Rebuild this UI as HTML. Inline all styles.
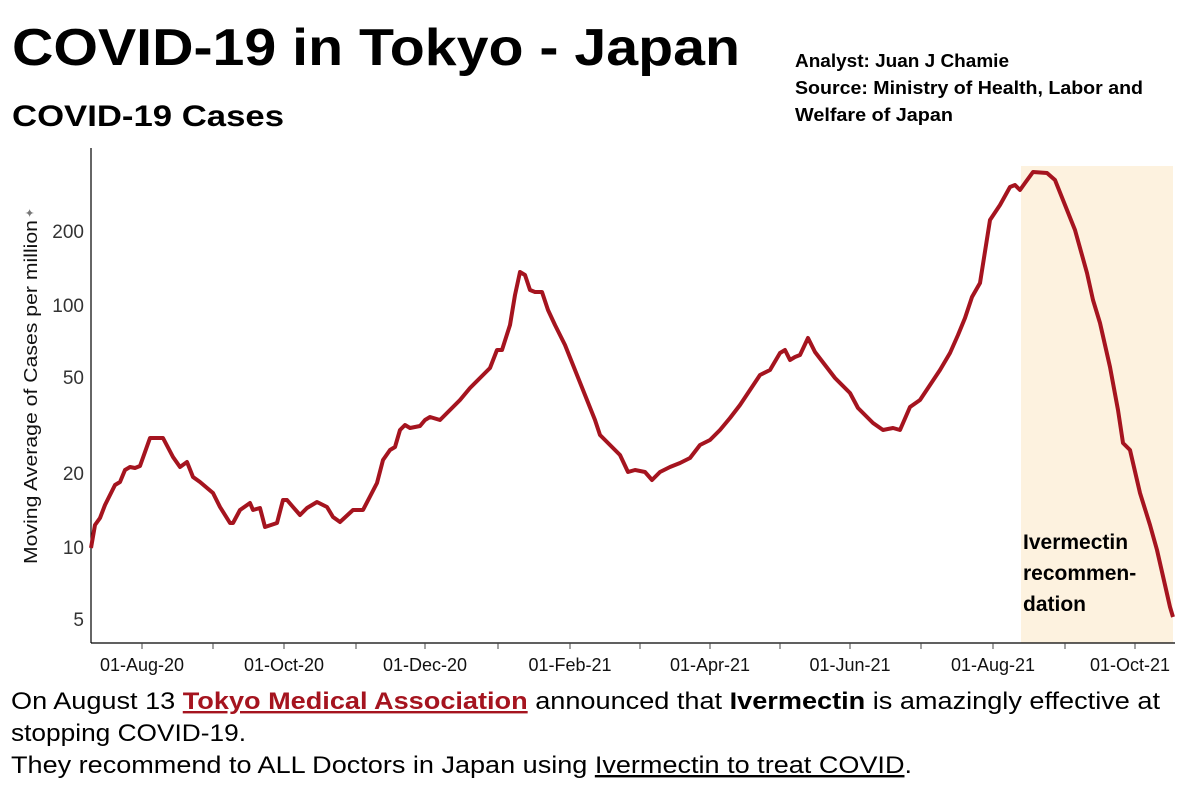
<!DOCTYPE html>
<html><head><meta charset="utf-8"><style>
body{margin:0;background:#fff}
svg{display:block}
</style></head><body>
<svg width="1181" height="787" xmlns="http://www.w3.org/2000/svg" font-family="Liberation Sans, sans-serif">
<rect width="1181" height="787" fill="#fff"/>
<text x="12" y="65" font-size="52" font-weight="bold" textLength="728" lengthAdjust="spacingAndGlyphs">COVID-19 in Tokyo - Japan</text>
<text x="12" y="126" font-size="30" font-weight="bold" textLength="272" lengthAdjust="spacingAndGlyphs">COVID-19 Cases</text>
<g font-size="18" font-weight="bold">
<text x="795" y="67" textLength="214" lengthAdjust="spacingAndGlyphs">Analyst: Juan J Chamie</text>
<text x="795" y="94" textLength="348" lengthAdjust="spacingAndGlyphs">Source: Ministry of Health, Labor and</text>
<text x="795" y="121" textLength="158" lengthAdjust="spacingAndGlyphs">Welfare of Japan</text>
</g>
<rect x="1021" y="166" width="152" height="477" fill="#fdf2df"/>
<line x1="91" y1="148" x2="91" y2="643" stroke="#000" stroke-width="1.2"/>
<line x1="91" y1="643" x2="1175" y2="643" stroke="#000" stroke-width="1.2"/>
<g stroke="#444" stroke-width="1">
<line x1="142" y1="643" x2="142" y2="649"/><line x1="213" y1="643" x2="213" y2="649"/>
<line x1="284" y1="643" x2="284" y2="649"/><line x1="356" y1="643" x2="356" y2="649"/>
<line x1="425" y1="643" x2="425" y2="649"/><line x1="498" y1="643" x2="498" y2="649"/>
<line x1="570" y1="643" x2="570" y2="649"/><line x1="640" y1="643" x2="640" y2="649"/>
<line x1="710" y1="643" x2="710" y2="649"/><line x1="780" y1="643" x2="780" y2="649"/>
<line x1="850" y1="643" x2="850" y2="649"/><line x1="921" y1="643" x2="921" y2="649"/>
<line x1="993" y1="643" x2="993" y2="649"/><line x1="1065" y1="643" x2="1065" y2="649"/>
<line x1="1135" y1="643" x2="1135" y2="649"/>
</g>
<g font-size="18" fill="#111" text-anchor="middle">
<text x="142" y="671">01-Aug-20</text><text x="284" y="671">01-Oct-20</text>
<text x="425" y="671">01-Dec-20</text><text x="570" y="671">01-Feb-21</text>
<text x="710" y="671">01-Apr-21</text><text x="850" y="671">01-Jun-21</text>
<text x="993" y="671">01-Aug-21</text><text x="1130" y="671">01-Oct-21</text>
</g>
<g font-size="19" fill="#333" text-anchor="end">
<text x="84" y="238">200</text><text x="84" y="312">100</text>
<text x="84" y="384">50</text><text x="84" y="480">20</text>
<text x="84" y="554">10</text><text x="84" y="626">5</text>
</g>
<text transform="translate(37,564) rotate(-90)" font-size="18" fill="#111" textLength="344" lengthAdjust="spacingAndGlyphs">Moving Average of Cases per million</text>
<text transform="translate(34,218) rotate(-90)" font-size="12" fill="#777">✦</text>
<polyline fill="none" stroke="#a5141f" stroke-width="4" stroke-linejoin="round" points="91,548 95,525 100,518 105,505 110,495 115,485 120,482 125,470 130,467 135,468 140,466 145,452 150,438 163,438 173,457 180,467 187,462 193,477 200,482 213,493 220,507 230,523 233,523 240,510 250,503 253,510 260,508 265,527 277,523 283,500 287,500 293,507 300,515 307,508 317,502 327,507 333,517 340,522 353,510 363,510 377,483 383,460 390,450 395,447 400,430 405,425 410,428 420,426 425,420 430,417 440,420 450,410 460,400 470,388 480,378 490,368 497,350 502,350 510,325 515,295 520,272 525,275 530,290 535,292 542,292 548,310 555,325 565,345 575,370 585,395 595,420 600,435 610,445 620,455 628,472 635,470 645,472 652,480 660,472 670,467 680,463 690,458 700,445 710,440 720,430 730,418 740,405 750,390 760,375 770,370 780,353 785,350 790,360 795,357 800,355 808,338 815,352 825,365 835,378 850,393 858,408 873,423 883,430 893,428 900,430 910,407 920,400 930,385 940,370 950,353 958,335 965,318 972,297 980,283 990,220 1000,205 1010,187 1015,185 1020,190 1025,183 1033,172 1047,173 1055,180 1063,200 1075,230 1087,273 1093,300 1100,323 1110,367 1118,410 1123,443 1130,450 1140,493 1150,525 1157,550 1165,585 1170,607 1173,617"/>
<g font-size="21" font-weight="bold" fill="#000">
<text x="1023" y="549">Ivermectin</text>
<text x="1023" y="580">recommen-</text>
<text x="1023" y="611">dation</text>
</g>
<g font-size="24" fill="#000">
<text x="11" y="709" textLength="1149" lengthAdjust="spacingAndGlyphs">On August 13 <tspan fill="#a5141f" font-weight="bold" text-decoration="underline">Tokyo Medical Association</tspan> announced that <tspan font-weight="bold">Ivermectin</tspan> is amazingly effective at</text>
<text x="11" y="741" textLength="235" lengthAdjust="spacingAndGlyphs">stopping COVID-19.</text>
<text x="11" y="773" textLength="901" lengthAdjust="spacingAndGlyphs">They recommend to ALL Doctors in Japan using <tspan text-decoration="underline">Ivermectin to treat COVID</tspan>.</text>
</g>
</svg>
</body></html>
